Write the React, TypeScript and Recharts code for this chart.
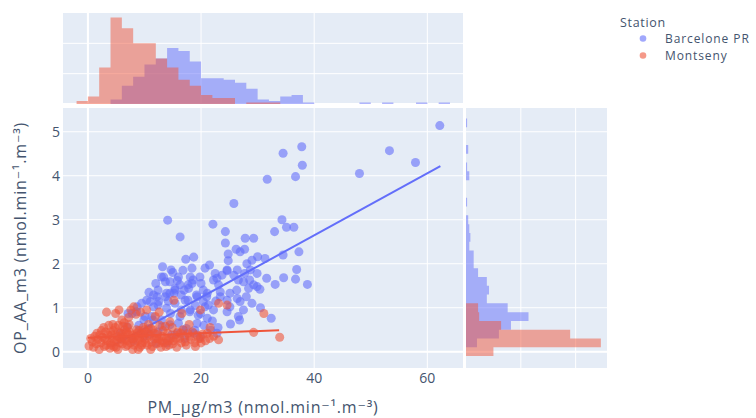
import React from 'react'
import {
  ScatterChart,
  Scatter,
  ComposedChart,
  Area,
  XAxis,
  YAxis,
  ZAxis,
  CartesianGrid,
} from 'recharts'

// Plotly-like palette
const BLUE = '#636EFA'
const RED = '#EF553B'
const BG = '#E5ECF6'
const TEXT = '#44546e'
const FONT = '"Open Sans", "DejaVu Sans", sans-serif'

const stations = ['Barcelone PR', 'Montseny']

// axis setup
const pmDomain = [-4.4, 66.3]
const pmTicks = [0, 20, 40, 60]
const opDomain = [-0.37, 5.54]
const opTicks = [0, 1, 2, 3, 4, 5]

// scatter points: [PM, OP_AA]
const barcelonePoints: [number, number][] = [
  [62.2, 5.14], [53.3, 4.57], [57.9, 4.3], [48.0, 4.05], [37.8, 4.66], [34.5, 4.51],
  [37.9, 4.24], [36.7, 3.98], [31.7, 3.92], [25.8, 3.37], [14.1, 2.99], [22.1, 2.9],
  [16.3, 2.61], [24.3, 2.73], [27.8, 2.58], [29.3, 2.58], [34.3, 3.0], [35.1, 2.83],
  [36.4, 2.83], [33.0, 2.73], [37.3, 2.27], [34.5, 2.2], [24.3, 2.47], [26.2, 2.33],
  [26.9, 2.27], [27.7, 2.33], [24.8, 2.22], [24.8, 2.07], [30.0, 2.16], [31.3, 2.12],
  [29.0, 2.08], [28.1, 2.0], [18.7, 2.15], [17.3, 2.1], [18.4, 1.9], [20.7, 1.9],
  [21.5, 1.97], [13.2, 1.93], [14.7, 1.86], [29.9, 1.78], [36.9, 1.87], [31.6, 1.67],
  [33.1, 1.53], [34.6, 1.68], [36.7, 1.65], [38.8, 1.53], [28.7, 1.86], [27.7, 1.78],
  [26.4, 1.86], [24.6, 1.86], [23.7, 1.74], [22.8, 1.67], [26.6, 1.63], [27.5, 1.59],
  [28.6, 1.63], [29.3, 1.52], [28.4, 1.44], [29.9, 1.48], [30.4, 1.42], [26.3, 1.4],
  [25.1, 1.33], [29.0, 1.1], [26.4, 1.21], [26.9, 1.14], [22.2, 1.63], [23.1, 1.52],
  [23.4, 1.36], [18.1, 1.7], [18.4, 1.55], [17.8, 1.44], [16.3, 1.52], [15.4, 1.4],
  [14.5, 1.33], [13.7, 1.25], [13.4, 1.7], [13.7, 1.59], [11.6, 1.29], [12.5, 1.14],
  [19.3, 1.25], [20.4, 1.14], [21.3, 1.06], [24.6, 1.17], [25.1, 1.02], [24.6, 0.91],
  [26.6, 0.8], [32.4, 0.76], [25.2, 0.63], [26.8, 0.72], [22.5, 1.78], [24.6, 1.84],
  [25.8, 1.74], [21.1, 1.33], [23.4, 1.25], [22.2, 0.95], [19.9, 0.87], [17.2, 1.17],
  [15.2, 1.33], [12.2, 1.25], [10.4, 1.17], [11.6, 1.02], [14.6, 0.87], [16.3, 0.8],
  [18.1, 0.95], [19.3, 0.64], [21.7, 0.49], [22.8, 0.42], [21.1, 0.76], [13.1, 0.57],
  [11.3, 0.8], [9.9, 0.72], [9.3, 0.42], [7.8, 0.87], [8.7, 1.02], [6.9, 0.57],
  [5.7, 0.42], [16.9, 0.49], [18.7, 0.42], [15.8, 0.42], [19.9, 0.34], [13.0, 1.7],
  [14.5, 1.59], [16.0, 1.7], [17.7, 1.52], [18.6, 1.63], [19.8, 1.7], [12.4, 1.4],
  [13.9, 1.33], [15.4, 1.44], [16.5, 1.29], [17.7, 1.17], [19.2, 1.29], [20.4, 1.4],
  [11.0, 1.14], [12.4, 1.06], [13.9, 0.99], [15.4, 1.1], [16.5, 0.95], [18.0, 0.91],
  [19.5, 0.83], [20.7, 1.02], [7.1, 0.87], [8.6, 0.91], [10.1, 0.8], [11.5, 0.72],
  [13.0, 0.72], [14.5, 0.61], [16.0, 0.65], [17.4, 0.53], [18.9, 0.49], [10.7, 0.53],
  [12.4, 0.45], [14.8, 0.38], [17.1, 0.3], [6.0, 0.3], [8.0, 0.25], [10.0, 0.35],
  [12.0, 0.2], [9.0, 0.6], [11.0, 0.4], [14.0, 0.2], [20.5, 0.6], [22.0, 0.7],
  [23.0, 0.55], [15.0, 1.8], [16.8, 1.85], [12.0, 1.55], [10.8, 1.35], [9.5, 1.1],
  [20.0, 1.55], [21.0, 1.25], [22.6, 1.15], [19.0, 1.05], [17.0, 1.4], [15.8, 1.62],
  [14.2, 1.15], [27.5, 0.95], [28.0, 1.25], [30.5, 1.0],
]

const montsenyPoints: [number, number][] = [
  [0.2, 0.13], [0.5, 0.3], [0.8, 0.22], [1.2, 0.35], [1.0, 0.1], [1.5, 0.18],
  [1.8, 0.28], [2.0, 0.05], [1.6, 0.42], [2.3, 0.2], [2.6, 0.33], [2.9, 0.12],
  [3.1, 0.45], [3.4, 0.25], [3.7, 0.6], [3.3, 0.9], [2.8, 0.55], [3.9, 0.08],
  [3.6, 0.38], [4.1, 0.15], [4.3, 0.3], [4.5, 0.48], [4.7, 0.22], [4.9, 0.87],
  [5.0, 0.1], [5.2, 0.35], [5.4, 0.6], [5.6, 0.2], [5.8, 0.42], [4.4, 0.62],
  [5.3, 0.05], [5.9, 0.28], [4.8, 0.55], [5.5, 0.95], [4.2, 0.38], [6.0, 0.72],
  [6.1, 0.18], [6.3, 0.33], [6.5, 0.5], [6.7, 0.12], [6.9, 0.25], [7.1, 0.4],
  [7.3, 0.62], [7.5, 0.2], [7.7, 0.3], [7.9, 0.05], [6.4, 0.66], [7.2, 0.78],
  [6.8, 0.45], [7.6, 0.95], [6.2, 0.58], [8.1, 1.02], [8.2, 0.15], [8.4, 0.35],
  [8.6, 0.5], [8.8, 0.25], [9.0, 0.48], [9.2, 0.1], [9.4, 0.4], [9.6, 0.2],
  [9.8, 0.55], [8.5, 0.85], [9.3, 0.9], [8.9, 0.05], [9.7, 0.32], [10.1, 0.28],
  [10.3, 0.45], [10.5, 0.15], [10.7, 0.62], [10.9, 0.35], [11.1, 0.05], [11.3, 0.22],
  [11.5, 0.5], [11.7, 0.3], [11.9, 0.8], [10.4, 0.95], [11.2, 0.52], [12.1, 0.18],
  [12.3, 0.4], [12.5, 0.28], [12.7, 0.6], [12.9, 0.1], [13.1, 0.35], [13.3, 0.48],
  [13.5, 0.2], [13.7, 0.58], [13.9, 0.3], [12.6, 0.9], [14.1, 0.42], [14.3, 0.15],
  [14.6, 0.3], [14.9, 0.55], [15.1, 0.25], [15.2, 1.17], [15.4, 0.38], [15.7, 0.1],
  [15.9, 0.45], [14.5, 0.68], [16.2, 0.3], [16.6, 0.87], [16.5, 0.2], [16.8, 0.5],
  [17.1, 0.35], [17.4, 0.15], [17.7, 0.42], [17.9, 0.62], [18.2, 0.28], [18.5, 0.45],
  [18.9, 0.2], [19.3, 0.38], [19.6, 0.3], [19.9, 0.95], [19.9, 0.3], [20.3, 0.4],
  [20.8, 0.25], [21.1, 0.42], [21.6, 0.55], [22.2, 0.35], [23.1, 0.27], [23.1, 1.1],
  [24.6, 1.06], [29.3, 0.44], [31.1, 0.87], [33.9, 0.33], [2.1, 0.38], [3.0, 0.3],
  [4.0, 0.45], [4.6, 0.12], [5.1, 0.25], [5.7, 0.32], [6.6, 0.28], [7.0, 0.15],
  [7.4, 0.45], [7.8, 0.38], [8.3, 0.22], [8.7, 0.42], [9.1, 0.3], [9.5, 0.15],
  [9.9, 0.4], [10.2, 0.2], [10.8, 0.4], [11.4, 0.12], [11.8, 0.42], [12.2, 0.3],
  [12.8, 0.2], [13.2, 0.25], [13.8, 0.12], [14.2, 0.25], [15.0, 0.18], [15.6, 0.3],
  [16.4, 0.42], [17.2, 0.22], [18.0, 0.35], [19.0, 0.12], [20.0, 0.2], [21.5, 0.3],
  [4.0, 0.2], [6.0, 0.4], [8.0, 0.3], [3.2, 0.15], [5.3, 0.45], [7.0, 0.55],
  [10.0, 0.5], [2.4, 0.48],
]

// OLS trendline end points
const barceloneTrend: [number, number][] = [[4.2, 0.12], [62.3, 4.22]]
const montsenyTrend: [number, number][] = [[0.0, 0.32], [33.8, 0.49]]

// top marginal histogram (PM), bins of 2 starting at -2
const pmBinStart = -2
const pmBinWidth = 2
const pmCountsBarcelone = [
  0, 0, 0, 3, 12, 18, 26, 30, 37, 35, 28, 17, 17, 16, 14, 10, 3,
  2, 5, 6, 1, 0, 0, 0, 0, 1, 0, 1, 0, 0, 1, 0, 1,
]
const pmCountsMontseny = [
  2, 5, 24, 57, 50, 40, 40, 30, 24, 16, 12, 6, 4, 4, 0, 1, 1,
  1, 0, 0, 0, 0, 0, 0, 0, 0, 0, 0, 0, 0, 0, 0, 0,
]
const pmCountDomain = [0, 60]
const pmCountTicks = [20, 40]

// right marginal histogram (OP_AA), bins of 0.2 starting at -0.1
const opBinStart = -0.1
const opBinWidth = 0.2
const opCountsBarcelone = [
  0, 10, 30, 41, 57, 38, 19, 21, 19, 11, 7, 7, 3, 4,
  3, 2, 0, 1, 0, 0, 3, 1, 0, 2, 0, 0, 1,
]
const opCountsMontseny = [
  25, 123, 95, 32, 12, 11, 0, 0, 0, 0, 0, 0, 0, 0,
  0, 0, 0, 0, 0, 0, 0, 0, 0, 0, 0, 0, 0,
]
const opCountDomain = [0, 128.6]
const opCountTicks = [50, 100]

const toXY = (pts: [number, number][]) => pts.map(([x, y]) => ({ x, y }))

// step tables: one row per bin edge, last row closes the final bin
function stepTable(start: number, width: number, a: number[], b: number[]) {
  const rows = []
  for (let i = 0; i <= a.length; i++) {
    rows.push({
      edge: +(start + i * width).toFixed(3),
      barcelone: i < a.length ? a[i] : 0,
      montseny: i < b.length ? b[i] : 0,
    })
  }
  return rows
}

const pmHist = stepTable(pmBinStart, pmBinWidth, pmCountsBarcelone, pmCountsMontseny)
const opHist = stepTable(opBinStart, opBinWidth, opCountsBarcelone, opCountsMontseny)

const noShape = () => <g />

const tickStyle = { fontSize: 14, fill: TEXT, fontFamily: FONT }

export default function App() {
  return (
    <div style={{ position: 'absolute', left: 0, top: 0, width: 756, height: 418, background: '#fff', fontFamily: FONT }}>
      {/* top marginal histogram */}
      <div style={{ position: 'absolute', left: 63, top: 13, width: 400, height: 91 }}>
        <ComposedChart width={400} height={91} data={pmHist} margin={{ top: 0, right: 0, bottom: 0, left: 0 }}>
          <CartesianGrid fill={BG} fillOpacity={1} stroke="#fff" verticalValues={pmTicks} horizontalValues={pmCountTicks} />
          <CartesianGrid stroke="#fff" strokeWidth={2} verticalValues={[0]} horizontalValues={[0]} />
          <XAxis type="number" dataKey="edge" domain={pmDomain} ticks={pmTicks} allowDataOverflow hide />
          <YAxis type="number" domain={pmCountDomain} ticks={pmCountTicks} allowDataOverflow hide />
          <Area type="stepAfter" dataKey="barcelone" stroke="none" fill={BLUE} fillOpacity={0.5} isAnimationActive={false} />
          <Area type="stepAfter" dataKey="montseny" stroke="none" fill={RED} fillOpacity={0.5} isAnimationActive={false} />
        </ComposedChart>
      </div>

      {/* right marginal histogram */}
      <div style={{ position: 'absolute', left: 466, top: 108, width: 141, height: 260 }}>
        <ComposedChart layout="vertical" width={141} height={260} data={opHist} margin={{ top: 0, right: 0, bottom: 0, left: 0 }}>
          <CartesianGrid fill={BG} fillOpacity={1} stroke="#fff" verticalValues={opCountTicks} horizontalValues={opTicks} />
          <CartesianGrid stroke="#fff" strokeWidth={2} verticalValues={[0]} horizontalValues={[0]} />
          <XAxis type="number" domain={opCountDomain} ticks={opCountTicks} allowDataOverflow hide />
          <YAxis type="number" dataKey="edge" domain={opDomain} ticks={opTicks} allowDataOverflow reversed hide />
          <Area type="stepBefore" dataKey="barcelone" stroke="none" fill={BLUE} fillOpacity={0.5} isAnimationActive={false} />
          <Area type="stepBefore" dataKey="montseny" stroke="none" fill={RED} fillOpacity={0.5} isAnimationActive={false} />
        </ComposedChart>
      </div>

      {/* main scatter */}
      <div style={{ position: 'absolute', left: 0, top: 100, width: 470, height: 318 }}>
        <ScatterChart width={470} height={318} margin={{ top: 8, right: 7, bottom: 0, left: 0 }}>
          <CartesianGrid fill={BG} fillOpacity={1} stroke="#fff" verticalValues={pmTicks} horizontalValues={opTicks} />
          <CartesianGrid stroke="#fff" strokeWidth={2} verticalValues={[0]} horizontalValues={[0]} />
          <XAxis
            type="number"
            dataKey="x"
            domain={pmDomain}
            ticks={pmTicks}
            allowDataOverflow
            height={50}
            tickLine={false}
            axisLine={false}
            tickSize={0}
            tickMargin={5}
            tick={tickStyle}
          />
          <YAxis
            type="number"
            dataKey="y"
            domain={opDomain}
            ticks={opTicks}
            allowDataOverflow
            width={63}
            tickLine={false}
            axisLine={false}
            tickSize={0}
            tickMargin={3}
            tick={tickStyle}
          />
          <ZAxis range={[36, 36]} />
          <Scatter name={stations[0]} data={toXY(barcelonePoints)} fill={BLUE} fillOpacity={0.6} isAnimationActive={false} />
          <Scatter data={toXY(barceloneTrend)} line={{ stroke: BLUE, strokeWidth: 2 }} shape={noShape} isAnimationActive={false} />
          <Scatter name={stations[1]} data={toXY(montsenyPoints)} fill={RED} fillOpacity={0.6} isAnimationActive={false} />
          <Scatter data={toXY(montsenyTrend)} line={{ stroke: RED, strokeWidth: 2 }} shape={noShape} isAnimationActive={false} />
        </ScatterChart>
      </div>

      {/* titles and legend */}
      <svg width={756} height={418} style={{ position: 'absolute', left: 0, top: 0, pointerEvents: 'none' }}>
        <text x={263} y={413} textAnchor="middle" fontSize={16} letterSpacing={0.8} fill={TEXT} fontFamily={FONT}>
          PM_µg/m3 (nmol.min⁻¹.m⁻³)
        </text>
        <text x={26} y={238} transform="rotate(-90 26 238)" textAnchor="middle" fontSize={16} letterSpacing={0.8} fill={TEXT} fontFamily={FONT}>
          OP_AA_m3 (nmol.min⁻¹.m⁻³)
        </text>
        <text x={620} y={27} fontSize={12.5} letterSpacing={0.7} fill={TEXT} fontFamily={FONT}>Station</text>
        <circle cx={643} cy={38.5} r={3.3} fill={BLUE} fillOpacity={0.6} />
        <text x={665} y={43} fontSize={12} letterSpacing={0.9} fill={TEXT} fontFamily={FONT}>{stations[0]}</text>
        <circle cx={643} cy={55.5} r={3.3} fill={RED} fillOpacity={0.6} />
        <text x={665} y={60} fontSize={12} letterSpacing={0.9} fill={TEXT} fontFamily={FONT}>{stations[1]}</text>
      </svg>
    </div>
  )
}
